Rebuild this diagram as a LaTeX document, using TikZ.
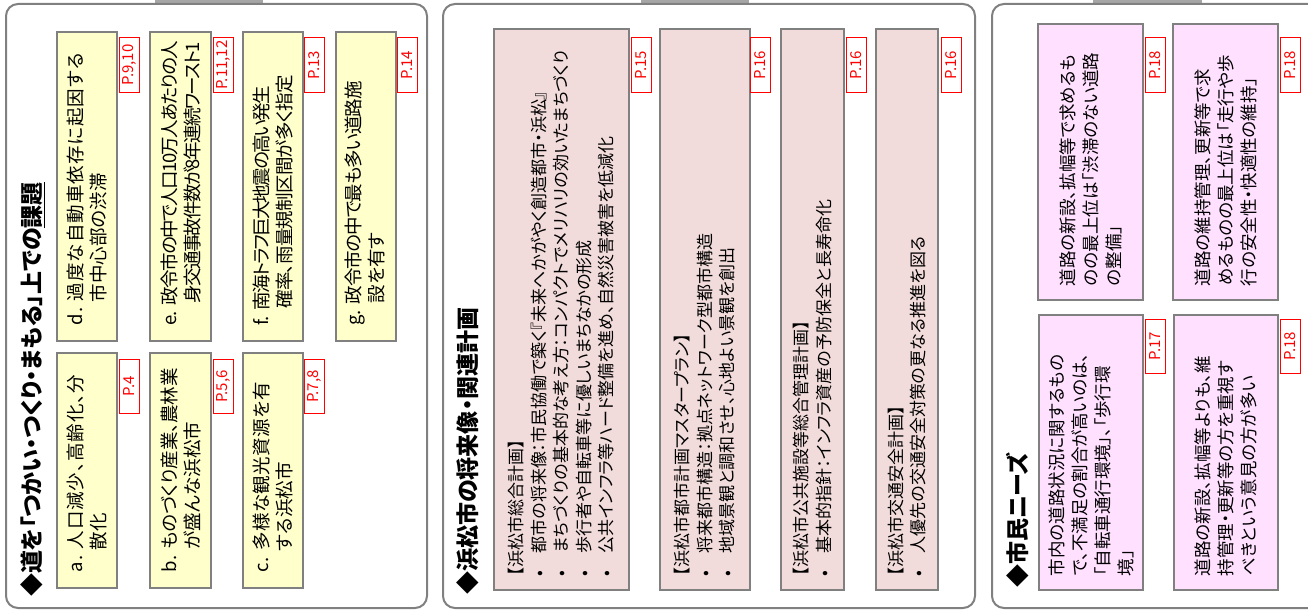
\documentclass[tikz,border=0pt]{standalone}
\usepackage{fontspec}
\usepackage{xcolor}
\usepackage{tikz}
\setmainfont{Noto Sans CJK JP}[RawFeature=+palt]
\definecolor{gry}{RGB}{128,128,128}
\definecolor{tabc}{RGB}{166,166,166}
\definecolor{yel}{RGB}{255,255,204}
\definecolor{pnk}{RGB}{242,220,219}
\definecolor{mag}{RGB}{255,224,255}
\newcommand{\bul}{\textbullet\hspace{1em}}
\newcommand{\fl}[2]{\mbox{\addfontfeature{LetterSpace=#1}#2}}

\begin{document}
\begin{tikzpicture}[x=1pt, y=-1pt,
					panel/.style = {draw=gry, line width=2pt, rounded corners=12pt, fill=white},
					tab/.style = {fill=tabc, draw=none},
					card/.style = {shape=rectangle, rotate=90, draw=gry, line width=1.5pt,
						align=left, inner xsep=14pt, inner ysep=0pt,
						font=\fontsize{17}{22.5}\selectfont},
					ycard/.style = {card, fill=yel, inner xsep=16pt, font=\fontsize{18.5}{23}\selectfont},
					pcard/.style = {card, fill=pnk},
					mcard/.style = {card, fill=mag, font=\fontsize{17.5}{23}\selectfont},
					pg/.style = {shape=rectangle, rotate=90, draw=red, fill=white, text=red,
						line width=1pt, minimum width=54pt, minimum height=20pt, inner sep=0pt,
						font=\fontsize{15}{15}\selectfont},
					ttl/.style = {rotate=90, anchor=west, inner sep=0pt,
						font=\fontsize{23}{23}\selectfont\bfseries}]
	\useasboundingbox (0,0) rectangle (1308,610);
	\clip (0,0) rectangle (1308,610);

	\fill[tab] (155,0) rectangle (263,4);
	\fill[tab] (641,0) rectangle (749,4);
	\fill[tab] (1093,0) rectangle (1202,4);
	\draw[panel] (6,4) rectangle (427,608);
	\draw[panel] (443,4) rectangle (975,608);
	\draw[panel] (992,4) rectangle (1340,608);

	\node[ttl] (t1) at (33,597) {◆道を「つかい・つくり・まもる」上での\underline{課題}};
	\node[ttl] (t2) at (468,595) {◆浜松市の将来像・関連計画};
	\node[ttl] (t3) at (1018,588) {◆市民ニーズ};

	\node[ycard, text width=203pt, minimum width=235pt, minimum height=60pt] (a) at (87,470.5)
		{\fl{5}{a.\ 人口減少、高齢化、分}\\\phantom{a.\ }散化};
	\node[ycard, text width=203pt, minimum width=235pt, minimum height=61pt] (b) at (180.5,470.5)
		{\fl{-1}{b.\ ものづくり産業、農林業}\\\phantom{b.\ }が盛んな浜松市};
	\node[ycard, text width=203pt, minimum width=235pt, minimum height=60pt] (c) at (273,470.5)
		{\fl{2.7}{c.\ 多様な観光資源を有}\\\phantom{c.\ }する浜松市};
	\node[ycard, text width=277pt, minimum width=309pt, minimum height=60pt] (d) at (87,186.5)
		{\fl{5.5}{d.\ 過度な自動車依存に起因する}\\\phantom{d.\ }市中心部の渋滞};
	\node[ycard, text width=277pt, minimum width=309pt, minimum height=61pt] (e) at (180.5,186.5)
		{\fl{-9}{e.\ 政令市の中で人口10万人あたりの人}\\\phantom{e.\ }\fl{-9}{身交通事故件数が8年連続ワースト1}};
	\node[ycard, text width=277pt, minimum width=309pt, minimum height=60pt] (f) at (273,186.5)
		{\fl{-9.5}{f.\ 南海トラフ巨大地震の高い発生}\\\phantom{f.\ }\fl{-4}{確率、雨量規制区間が多く指定}};
	\node[ycard, text width=277pt, minimum width=309pt, minimum height=60pt] (g) at (366,186.5)
		{\fl{-6}{g.\ 政令市の中で最も多い道路施}\\\phantom{g.\ }設を有す};

	\node[pg] (pa) at (129,386.5) {P.4};
	\node[pg] (pb) at (223,386.5) {P.5,6};
	\node[pg] (pc) at (314.5,386.5) {P.7,8};
	\node[pg] (pd) at (129,65) {P.9,10};
	\node[pg] (pe) at (223,65) {P.11,12};
	\node[pg] (pf) at (314.5,65) {P.13};
	\node[pg] (pgg) at (407,65) {P.14};

	\node[pcard, text width=533pt, minimum width=561pt, minimum height=135pt] (sogo) at (561.5,309.5)
		{【浜松市総合計画】\\
		 \bul 都市の将来像：市民協働で築く『未来へかがやく創造都市・浜松』\\
		 \bul まちづくりの基本的な考え方：コンパクトでメリハリの効いたまちづくり\\
		 \bul 歩行者や自転車等に優しいまちなかの形成\\
		 \bul 公共インフラ等ハード整備を進め、自然災害被害を低減化};
	\node[pcard, text width=533pt, minimum width=561pt, minimum height=90pt] (toshi) at (705,309.5)
		{【浜松市都市計画マスタープラン】\\
		 \bul 将来都市構造：拠点ネットワーク型都市構造\\
		 \bul 地域景観と調和させ、心地よい景観を創出};
	\node[pcard, text width=533pt, minimum width=561pt, minimum height=63pt] (kokyo) at (812.5,309.5)
		{【浜松市公共施設等総合管理計画】\\
		 \bul 基本的指針：インフラ資産の予防保全と長寿命化};
	\node[pcard, text width=533pt, minimum width=561pt, minimum height=62pt] (kotsu) at (907,309.5)
		{【浜松市交通安全計画】\\
		 \bul 人優先の交通安全対策の更なる推進を図る};

	\node[pg] (psogo) at (641,65) {P.15};
	\node[pg] (ptoshi) at (760.5,65) {P.16};
	\node[pg] (pkokyo) at (856,65) {P.16};
	\node[pg] (pkotsu) at (951.5,65) {P.16};

	\node[mcard, text width=248pt, minimum width=276pt, minimum height=105pt] (n1) at (1090.5,162)
		{道路の新設、拡幅等で求めるも\\のの最上位は「渋滞のない道路\\の整備」};
	\node[mcard, text width=248pt, minimum width=276pt, minimum height=105pt] (n2) at (1225.5,162)
		{道路の維持管理、更新等で求\\めるものの最上位は「走行や歩\\行の安全性・快適性の維持」};
	\node[mcard, text width=247pt, minimum width=275pt, minimum height=104pt] (n3) at (1091,452.5)
		{市内の道路状況に関するもの\\で、不満足の割合が高いのは、\\「自転車通行環境」、「歩行環\\境」};
	\node[mcard, text width=247pt, minimum width=275pt, minimum height=104pt] (n4) at (1226,452.5)
		{道路の新設、拡幅等よりも、維\\持管理・更新等の方を重視す\\べきという意見の方が多い};

	\node[pg] (pn1) at (1155.5,65) {P.18};
	\node[pg] (pn2) at (1290.5,65) {P.18};
	\node[pg] (pn3) at (1155.5,346) {P.17};
	\node[pg] (pn4) at (1290.5,346) {P.18};
\end{tikzpicture}
\end{document}
